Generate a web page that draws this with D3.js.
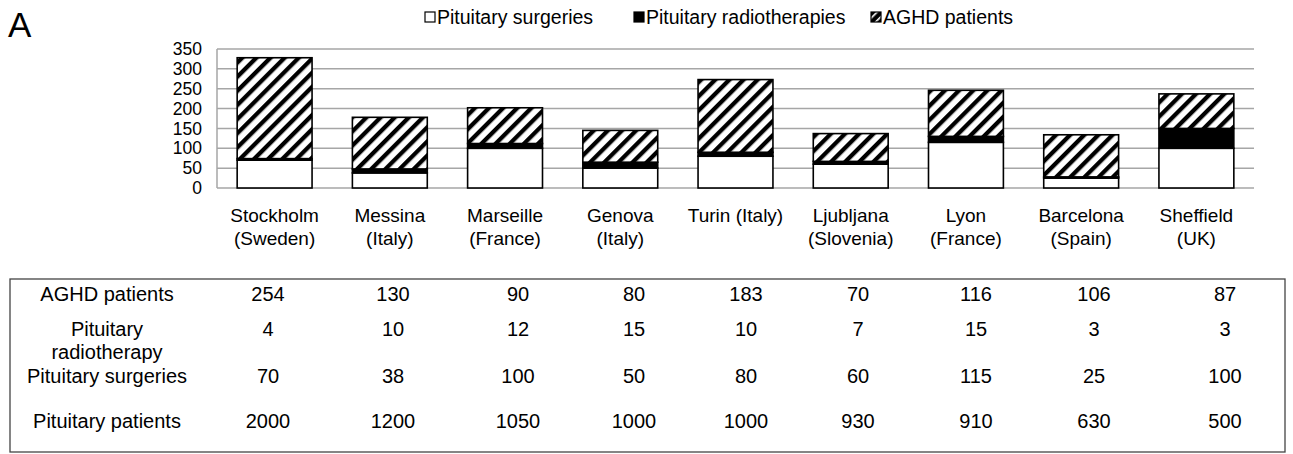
<!DOCTYPE html>
<html>
<head>
<meta charset="utf-8">
<script src="https://cdn.jsdelivr.net/npm/d3@7"></script>
<style>
  body { margin: 0; background: #fff; }
  svg { display: block; font-family: "Liberation Sans", Arial, sans-serif; }
</style>
</head>
<body>
<div id="wrapper"></div>
<script>
// data
const cities = [
    ["Stockholm", "(Sweden)"], ["Messina", "(Italy)"], ["Marseille", "(France)"],
    ["Genova", "(Italy)"], ["Turin (Italy)"], ["Ljubljana", "(Slovenia)"],
    ["Lyon", "(France)"], ["Barcelona", "(Spain)"], ["Sheffield", "(UK)"]
];
const surgeries = [70, 38, 100, 50, 80, 60, 115, 25, 100];
const radiotherapyBars = [4, 10, 12, 15, 10, 7, 15, 3, 50];   // as drawn in the bars
const aghdPatients = [254, 130, 90, 80, 183, 70, 116, 106, 87];
const radiotherapyTable = [4, 10, 12, 15, 10, 7, 15, 3, 3];  // as printed in the table
const pituitaryPatients = [2000, 1200, 1050, 1000, 1000, 930, 910, 630, 500];
const yTicks = [0, 50, 100, 150, 200, 250, 300, 350];
const seriesNames = ["Pituitary surgeries", "Pituitary radiotherapies", "AGHD patients"];
const tableRows = [
    { label: ["AGHD patients"], values: aghdPatients },
    { label: ["Pituitary", "radiotherapy"], values: radiotherapyTable },
    { label: ["Pituitary surgeries"], values: surgeries },
    { label: ["Pituitary patients"], values: pituitaryPatients }
];

function build() {
    const width = 1293, height = 454;
    const plot = { left: 217, right: 1254, top: 49, bottom: 188 };

    const svg = d3.select("#wrapper").append("svg")
        .attr("width", width)
        .attr("height", height);

    const defs = svg.append("defs");
    defs.append("pattern")
        .attr("id", "hatch")
        .attr("patternUnits", "userSpaceOnUse")
        .attr("width", 10)
        .attr("height", 10)
        .attr("patternTransform", "rotate(45)")
        .call(p => {
            p.append("rect").attr("width", 10).attr("height", 10).attr("fill", "#fff");
            p.append("rect").attr("x", 0).attr("width", 4.3).attr("height", 10).attr("fill", "#000");
        });
    defs.append("pattern")
        .attr("id", "hatchSmall")
        .attr("patternUnits", "userSpaceOnUse")
        .attr("width", 6)
        .attr("height", 6)
        .attr("patternTransform", "rotate(45)")
        .call(p => {
            p.append("rect").attr("width", 6).attr("height", 6).attr("fill", "#000");
            p.append("rect").attr("x", 0).attr("width", 1.6).attr("height", 6).attr("fill", "#fff");
        });

    const x = d3.scaleBand()
        .domain(d3.range(cities.length))
        .range([plot.left, plot.right])
        .paddingInner(0.35)
        .paddingOuter(0.175);

    const y = d3.scaleLinear()
        .domain([0, 350])
        .range([plot.bottom, plot.top]);

    // panel letter
    svg.append("text")
        .attr("x", 8)
        .attr("y", 37)
        .style("font-size", "35px")
        .text("A");

    // gridlines
    svg.append("g")
        .selectAll("line")
        .data(yTicks)
        .enter()
        .append("line")
        .attr("x1", plot.left)
        .attr("x2", plot.right)
        .attr("y1", d => y(d))
        .attr("y2", d => y(d))
        .attr("stroke", "#a6a6a6")
        .attr("stroke-width", 1.5);

    svg.append("line")
        .attr("x1", plot.left).attr("x2", plot.left)
        .attr("y1", y(350)).attr("y2", y(0))
        .attr("stroke", "#a6a6a6")
        .attr("stroke-width", 1.5);

    // y axis labels
    const yAxis = svg.append("g")
        .attr("transform", `translate(${plot.left - 15},0)`)
        .call(d3.axisLeft(y).tickValues(yTicks).tickSize(0).tickPadding(0));
    yAxis.select(".domain").remove();
    yAxis.selectAll("text")
        .style("font-size", "17.5px")
        .style("font-family", "Liberation Sans, Arial, sans-serif")
        .attr("fill", "#000");

    // stacked bars
    const stack = cities.map((c, i) => {
        const s = surgeries[i], r = radiotherapyBars[i], a = aghdPatients[i];
        return [
            { i, y0: 0, y1: s, fill: "#fff" },
            { i, y0: s, y1: s + r, fill: "#000" },
            { i, y0: s + r, y1: s + r + a, fill: "url(#hatch)" }
        ];
    }).flat();

    svg.append("g")
        .selectAll("rect")
        .data(stack)
        .enter()
        .append("rect")
        .attr("x", d => x(d.i))
        .attr("width", x.bandwidth())
        .attr("y", d => y(d.y1))
        .attr("height", d => y(d.y0) - y(d.y1))
        .attr("fill", d => d.fill)
        .attr("stroke", "#000")
        .attr("stroke-width", 1.6);

    // category labels
    const cat = svg.append("g")
        .selectAll("text")
        .data(cities)
        .enter()
        .append("text")
        .attr("x", (d, i) => x(i) + x.bandwidth() / 2)
        .attr("y", 222)
        .attr("text-anchor", "middle")
        .style("font-size", "19px");
    cat.selectAll("tspan")
        .data(d => d)
        .enter()
        .append("tspan")
        .attr("x", function () { return d3.select(this.parentNode).attr("x"); })
        .attr("dy", (d, j) => j === 0 ? 0 : 23)
        .text(d => d);

    // legend
    const legendX = [425, 634, 871];
    const legendFill = ["#fff", "#000", "url(#hatchSmall)"];
    const legend = svg.append("g")
        .selectAll("g")
        .data(seriesNames)
        .enter()
        .append("g")
        .attr("transform", (d, i) => `translate(${legendX[i]},0)`);
    legend.append("rect")
        .attr("x", 0).attr("y", 12)
        .attr("width", 10).attr("height", 10)
        .attr("fill", (d, i) => legendFill[i])
        .attr("stroke", "#000")
        .attr("stroke-width", 1.2);
    legend.append("text")
        .attr("x", 12)
        .attr("y", 24)
        .style("font-size", "19.5px")
        .text(d => d);

    // data table
    const table = { left: 10, right: 1285, top: 279, bottom: 452 };
    svg.append("rect")
        .attr("x", table.left)
        .attr("y", table.top)
        .attr("width", table.right - table.left)
        .attr("height", table.bottom - table.top)
        .attr("fill", "none")
        .attr("stroke", "#444")
        .attr("stroke-width", 1.3);

    const colX = [268, 393, 518, 634, 746, 858, 976, 1094, 1225];
    const rowY = [301, 336, 383, 428];

    const rows = svg.append("g")
        .selectAll("g")
        .data(tableRows)
        .enter()
        .append("g")
        .attr("transform", (d, i) => `translate(0,${rowY[i]})`)
        .style("font-size", "20px");

    rows.append("text")
        .attr("x", 107)
        .attr("text-anchor", "middle")
        .selectAll("tspan")
        .data(d => d.label)
        .enter()
        .append("tspan")
        .attr("x", 107)
        .attr("dy", (d, j) => j === 0 ? 0 : 23)
        .text(d => d);

    rows.selectAll("text.val")
        .data(d => d.values)
        .enter()
        .append("text")
        .attr("class", "val")
        .attr("x", (d, i) => colX[i])
        .attr("text-anchor", "middle")
        .text(d => d);
}

build();
</script>
</body>
</html>
